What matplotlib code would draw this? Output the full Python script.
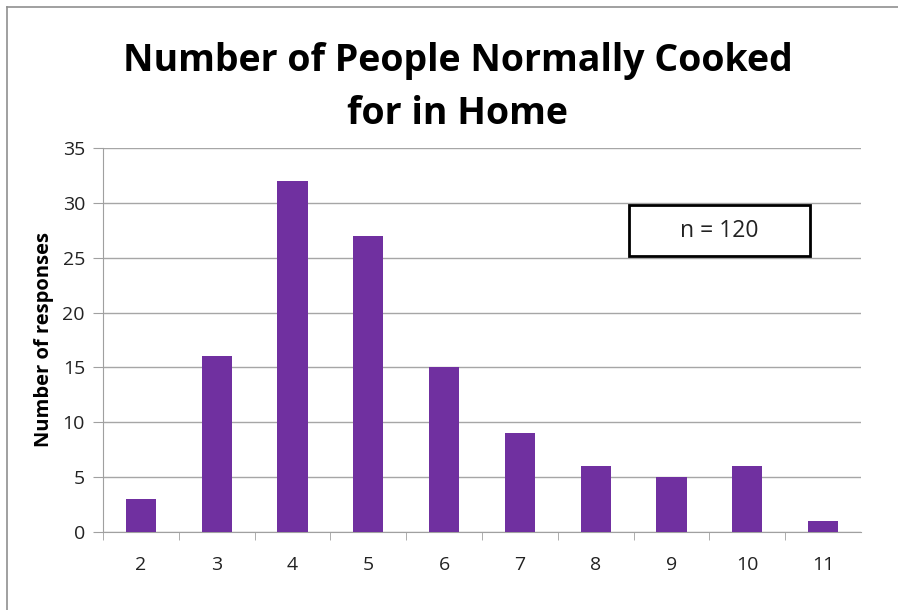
'''Number of People Normally Cooked for in Home - bar chart'''

import matplotlib
matplotlib.use('Agg')
import matplotlib.pyplot as plt
from matplotlib.patches import Rectangle
from matplotlib.lines import Line2D

# Data
people = [2, 3, 4, 5, 6, 7, 8, 9, 10, 11]
responses = [3, 16, 32, 27, 15, 9, 6, 5, 6, 1]
y_ticks = [0, 5, 10, 15, 20, 25, 30, 35]
title = 'Number of People Normally Cooked\nfor in Home'
note = 'n = 120'

plt.rcParams['font.family'] = ['Open Sans', 'DejaVu Sans']

fig = plt.figure(figsize=(8.98, 6.1), dpi=100)
ax = fig.add_axes([0.1147, 0.1279, 0.8441, 0.6295])

ax.bar(people, responses, width=0.4, color='#7030A0', zorder=3)

ax.set_xlim(1.5, 11.5)
ax.set_ylim(0, 35)
ax.set_yticks(y_ticks)
ax.set_xticks(people)
ax.set_xticks([p + 0.5 for p in people[:-1]] + [1.5], minor=True)
ax.tick_params(axis='x', which='major', length=0, pad=17, labelsize=14, labelcolor='#222222')
ax.tick_params(axis='x', which='minor', length=6, color='#a0a0a0', direction='out')
ax.tick_params(axis='y', length=7, color='#a0a0a0', pad=6, labelsize=14, labelcolor='#222222')

ax.grid(axis='y', color='#a6a6a6', linewidth=1, zorder=0)
for side in ['top', 'right']:
    ax.spines[side].set_visible(False)
ax.spines['left'].set_color('#a0a0a0')
ax.spines['bottom'].set_color('#a0a0a0')

ax.set_ylabel('Number of responses', fontsize=14.5, fontweight='bold', labelpad=6)
fig.text(0.51, 0.857, title, ha='center', va='center', fontsize=27,
         fontweight='bold', linespacing=1.52)

# n box
ax.add_patch(Rectangle((0.694, 0.719), 0.239, 0.133, transform=ax.transAxes,
                       facecolor='white', edgecolor='black', linewidth=2, zorder=5))
ax.text(0.8135, 0.785, note, transform=ax.transAxes, ha='center', va='center',
        fontsize=16.5, color='#222222', zorder=6)

# outer frame lines (top and left)
fig.add_artist(Line2D([0.008, 1.0], [0.989, 0.989], color='#909090', linewidth=1.2))
fig.add_artist(Line2D([0.008, 0.008], [0.0, 0.989], color='#909090', linewidth=1.2))

fig.savefig('out.png', dpi=100)
